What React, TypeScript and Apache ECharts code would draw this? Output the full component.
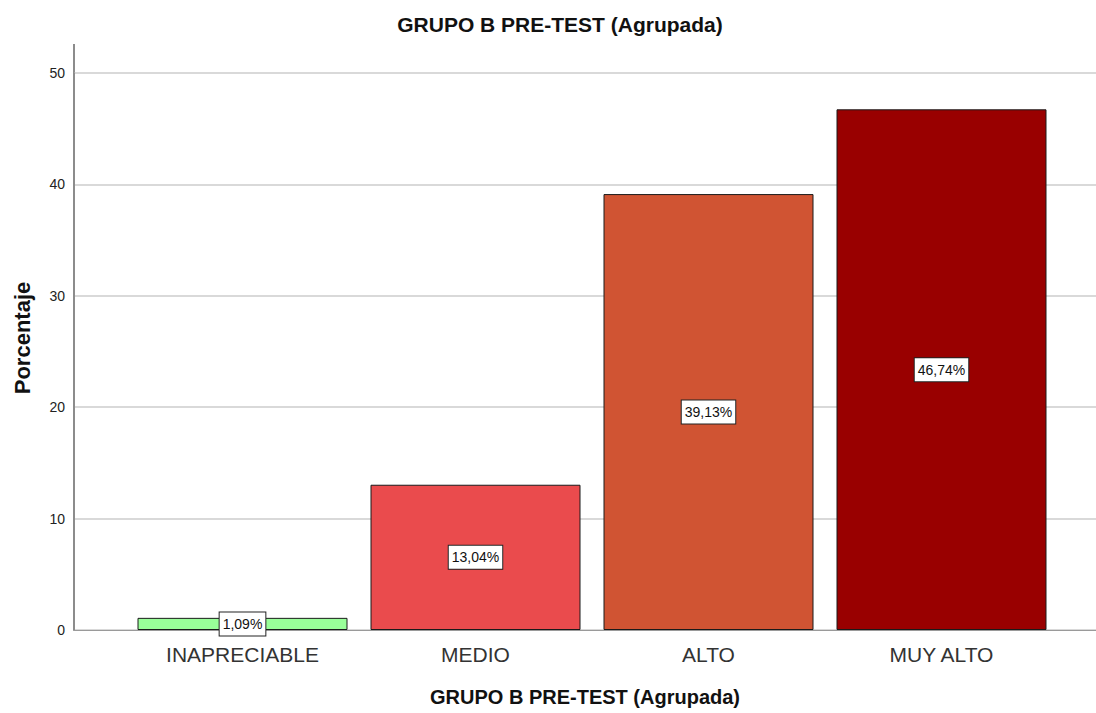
import React, { useEffect, useRef } from "react";
import * as echarts from "echarts";

const categories = ["INAPRECIABLE", "MEDIO", "ALTO", "MUY ALTO"];
const values = [1.09, 13.04, 39.13, 46.74];
const labels = ["1,09%", "13,04%", "39,13%", "46,74%"];
const colors = ["#99ff99", "#ea4b4d", "#d05433", "#990000"];
const titleText = "GRUPO B PRE-TEST (Agrupada)";
const yName = "Porcentaje";

export default function App() {
  const ref = useRef<HTMLDivElement>(null);
  useEffect(() => {
    const chart = echarts.init(ref.current!, null, { renderer: "svg" });
    chart.setOption({
      animation: false,
      backgroundColor: "#ffffff",
      title: {
        text: titleText,
        left: 555,
        top: 9,
        textAlign: "center",
        textStyle: { fontFamily: "Liberation Sans", fontSize: 21, fontWeight: "bold", color: "#111" },
      },
      graphic: [
        {
          type: "line",
          shape: { x1: 74, y1: 44, x2: 74, y2: 74 },
          style: { stroke: "#8c8c8c", lineWidth: 2 },
        },
        {
          type: "text",
          x: 22,
          y: 338,
          rotation: Math.PI / 2,
          style: {
            text: yName,
            fontFamily: "Liberation Sans",
            fontSize: 22,
            fontWeight: "bold",
            fill: "#111",
            align: "center",
            verticalAlign: "middle",
          },
        },
      ],
      grid: [
        { left: 74, right: 0, top: 73, bottom: 83, outerBoundsMode: "none", containLabel: false },
        { left: 126, right: 38, top: 73, bottom: 83, outerBoundsMode: "none", containLabel: false },
      ],
      xAxis: [
        {
          gridIndex: 0,
          type: "value",
          min: 0,
          max: 1,
          axisLine: { show: true, lineStyle: { color: "#9a9a9a", width: 1 } },
          axisTick: { show: false },
          axisLabel: { show: false },
          splitLine: { show: false },
          name: titleText,
          nameLocation: "middle",
          nameGap: 57,
          nameTextStyle: { fontFamily: "Liberation Sans", fontSize: 20, fontWeight: "bold", color: "#111" },
        },
        {
          gridIndex: 1,
          type: "category",
          data: categories,
          axisLine: { show: false },
          axisTick: { show: false },
          axisLabel: {
            margin: 14,
            fontFamily: "Liberation Sans",
            fontSize: 21,
            color: "#333",
          },
        },
      ],
      yAxis: [
        {
          gridIndex: 0,
          type: "value",
          min: 0,
          max: 50,
          interval: 10,
          axisLine: { show: true, lineStyle: { color: "#8c8c8c", width: 2 } },
          axisTick: { show: false },
          axisLabel: { fontFamily: "Liberation Sans", fontSize: 14, color: "#222", margin: 9 },
          splitLine: { show: true, lineStyle: { color: "#d9d9d9", width: 2 } },
        },
        {
          gridIndex: 1,
          type: "value",
          min: 0,
          max: 50,
          show: false,
        },
      ],
      series: [
        {
          type: "bar",
          xAxisIndex: 1,
          yAxisIndex: 1,
          barWidth: 210,
          data: values.map((v, i) => ({
            value: v,
            itemStyle: { color: colors[i], borderColor: "#1a1a1a", borderWidth: 1 },
          })),
          label: {
            show: true,
            position: "inside",
            formatter: (p: any) => labels[p.dataIndex],
            fontFamily: "Liberation Sans",
            fontSize: 14,
            color: "#111",
            backgroundColor: "#ffffff",
            borderColor: "#222",
            borderWidth: 1,
            padding: [5, 3, 4, 3],
          },
        },
      ],
    });
    return () => chart.dispose();
  }, []);
  return (
    <div
      ref={ref}
      style={{ position: "absolute", left: 0, top: 0, width: 1096, height: 713 }}
    />
  );
}
